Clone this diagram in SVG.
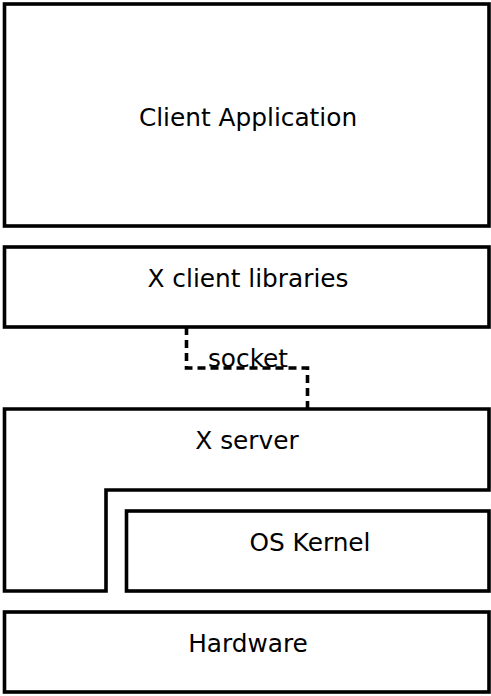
<svg xmlns="http://www.w3.org/2000/svg" width="491" height="696" viewBox="0 0 491 696">
  <style>
    .box { fill: #ffffff; stroke: #000000; stroke-width: 3.6; }
    .label { font-family: "DejaVu Sans", sans-serif; font-size: 24.8px; fill: #000000; text-anchor: middle; }
    .link { fill: none; stroke: #000000; stroke-width: 3.6; stroke-dasharray: 8 5; }
  </style>
  <rect x="0" y="0" width="491" height="696" fill="#ffffff"/>
  <g id="client-application">
    <rect class="box" x="4.5" y="4" width="484.5" height="222"/>
    <text class="label" x="248" y="126">Client Application</text>
  </g>
  <g id="x-client-libraries">
    <rect class="box" x="4.5" y="247" width="484.5" height="80"/>
    <text class="label" x="248" y="287">X client libraries</text>
  </g>
  <g id="x-server">
    <path class="box" d="M4.5 409 H489 V490 H106 V591 H4.5 Z"/>
    <text class="label" x="247" y="449">X server</text>
  </g>
  <g id="os-kernel">
    <rect class="box" x="126.5" y="511" width="362.5" height="80"/>
    <text class="label" x="310" y="551">OS Kernel</text>
  </g>
  <g id="hardware">
    <rect class="box" x="4.5" y="612" width="484.5" height="80"/>
    <text class="label" x="248" y="652">Hardware</text>
  </g>
  <g id="connectors">
    <path class="link" d="M186.5 327 V368 H307.5 V409"/>
    <text class="label" x="248" y="367">socket</text>
  </g>
</svg>
